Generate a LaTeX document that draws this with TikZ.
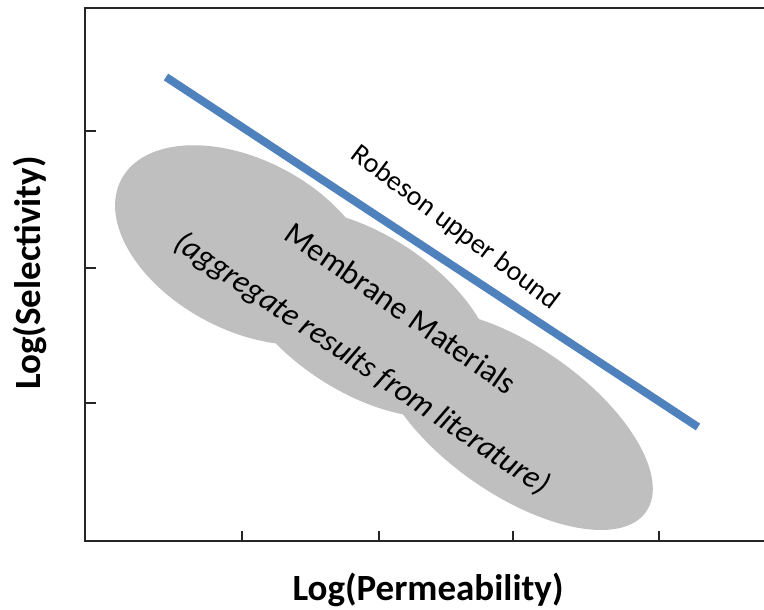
\documentclass[tikz,border=0pt]{standalone}
\usepackage{fontspec}
\setmainfont{Carlito}
\definecolor{boundblue}{HTML}{4F81BD}
\definecolor{blobgray}{HTML}{BFBFBF}

\begin{document}
\begin{tikzpicture}[x=1pt,y=-1pt]
	\tikzstyle{every node}+=[inner sep=0pt]
	\tikzstyle{axisline}=[black!85, line width=1.2pt]
	\tikzstyle{blob}=[fill=blobgray]
	\tikzstyle{axislabel}=[font=\fontsize{37}{44}\selectfont\bfseries]
	\tikzstyle{plotlabel}=[font=\fontsize{32}{38}\selectfont]
	\useasboundingbox (0,0) rectangle (764,610);
	\fill [blob, rotate around={-28:(245,245)}] (245,245) ellipse [x radius=140, y radius=85];
	\fill [blob, rotate around={-33:(363,313)}] (363,313) ellipse [x radius=148, y radius=79];
	\fill [blob, rotate around={-35:(515,420)}] (515,420) ellipse [x radius=160, y radius=74];
	\coordinate (ubstart) at (166,77);
	\coordinate (ubend) at (698,427);
	\draw [boundblue, line width=8pt] (ubstart) -- (ubend);
	\coordinate (origin) at (85,541);
	\coordinate (ytop) at (85,8);
	\coordinate (xend) at (764,541);
	\coordinate (topend) at (764,8);
	\draw [axisline] (topend) -- (ytop) -- (origin) -- (xend);
	\draw [axisline] (85,131) -- (96,131);
	\draw [axisline] (85,268) -- (96,268);
	\draw [axisline] (85,403) -- (96,403);
	\draw [axisline] (242,541) -- (242,531);
	\draw [axisline] (379,541) -- (379,531);
	\draw [axisline] (513,541) -- (513,531);
	\draw [axisline] (659,541) -- (659,531);
	\node [plotlabel, font=\fontsize{28}{34}\selectfont, rotate=-37] (ublabel) at (455,228) {Robeson upper bound};
	\node [plotlabel, rotate=-35] (memlabel) at (401,308) {Membrane Materials};
	\node [plotlabel, rotate=-34] (litlabel) at (362,364) {\itshape(aggregate results from literature)};
	\node [axislabel, rotate=90] (ylabel) at (30,273) {Log(Selectivity)};
	\node [axislabel] (xlabel) at (428,590) {Log(Permeability)};
\end{tikzpicture}
\end{document}
